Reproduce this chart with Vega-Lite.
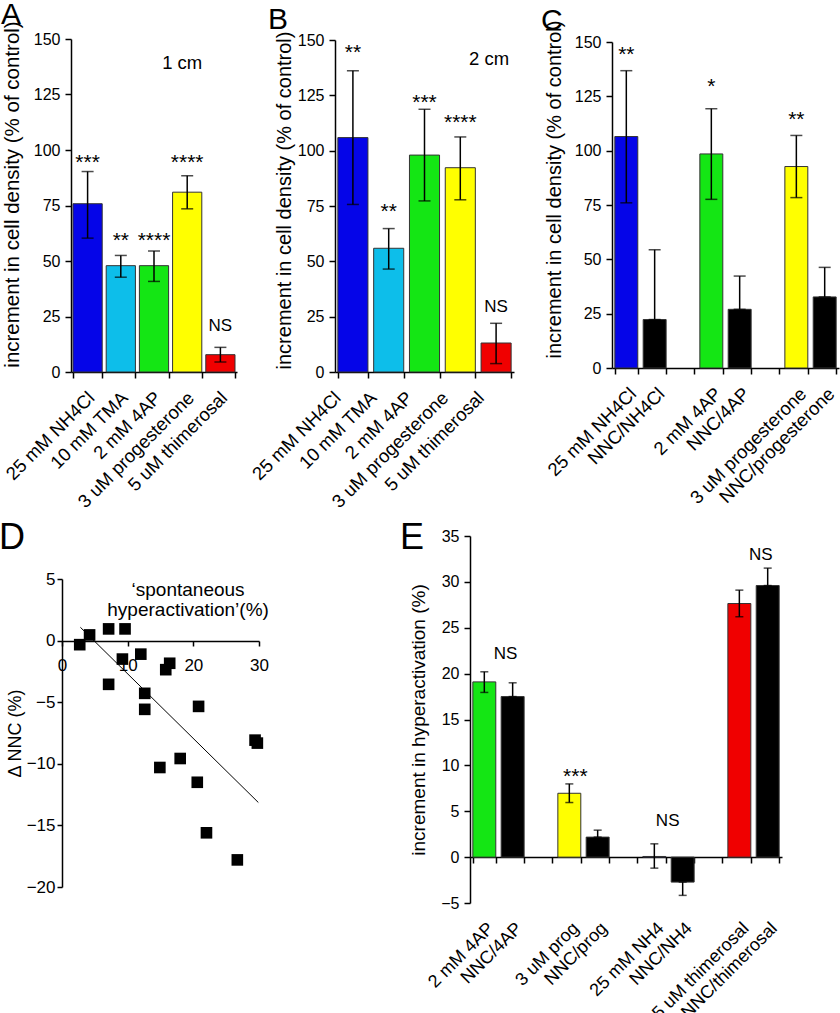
{
  "$schema": "https://vega.github.io/schema/vega-lite/v6.json",
  "autosize": {"type": "none"},
  "padding": {"left": 71, "top": 39, "right": 769, "bottom": 974},
  "background": "white",
  "config": {
    "font": "Liberation Sans",
    "view": {"stroke": null},
    "axis": {"domainColor": "black", "domainWidth": 1.5, "tickColor": "black", "tickWidth": 1.5, "tickSize": 6, "labelColor": "black", "titleColor": "black", "labelFontSize": 16, "titleFontSize": 20, "titleFontWeight": "normal", "grid": false, "labelPadding": 5, "titlePadding": 12},
    "title": {"fontSize": 30, "fontWeight": "normal", "anchor": "start", "frame": "group", "baseline": "alphabetic", "offset": 8, "color": "black"},
    "text": {"color": "black"}
  },
  "datasets": {
    "a": [
      {"c": "25 mM NH4Cl", "v": 75.8, "lo": 60.3, "hi": 90.3},
      {"c": "10 mM TMA", "v": 47.9, "lo": 42.7, "hi": 52.5},
      {"c": "2 mM 4AP", "v": 47.9, "lo": 40.8, "hi": 54.5},
      {"c": "3 uM progesterone", "v": 81, "lo": 73.5, "hi": 88.4},
      {"c": "5 uM thimerosal", "v": 7.8, "lo": 4.5, "hi": 11.1}
    ],
    "b": [
      {"c": "25 mM NH4Cl", "v": 105.9, "lo": 75.7, "hi": 136.1},
      {"c": "10 mM TMA", "v": 55.9, "lo": 46.5, "hi": 64.8},
      {"c": "2 mM 4AP", "v": 98, "lo": 77.3, "hi": 118.7},
      {"c": "3 uM progesterone", "v": 92.3, "lo": 77.8, "hi": 106.2},
      {"c": "5 uM thimerosal", "v": 13.1, "lo": 3.8, "hi": 22}
    ],
    "c": [
      {"c": "25 mM NH4Cl", "v": 106.5, "lo": 76, "hi": 136.8},
      {"c": "NNC/NH4Cl", "v": 22.3, "lo": 22.3, "hi": 54.4},
      {"c": "2 mM 4AP", "v": 98.5, "lo": 77.6, "hi": 119.3},
      {"c": "NNC/4AP", "v": 27, "lo": 27, "hi": 42.3},
      {"c": "3 uM progesterone", "v": 92.7, "lo": 78.4, "hi": 107},
      {"c": "NNC/progesterone", "v": 32.7, "lo": 32.7, "hi": 46.3}
    ],
    "d": [
      {"x": 2.7, "y": -0.33}, {"x": 4.2, "y": 0.46}, {"x": 7.1, "y": 0.95}, {"x": 9.6, "y": 0.95},
      {"x": 9.2, "y": -1.5}, {"x": 12.0, "y": -1.1}, {"x": 7.1, "y": -3.55}, {"x": 15.8, "y": -2.36},
      {"x": 16.4, "y": -1.84}, {"x": 12.6, "y": -4.28}, {"x": 12.6, "y": -5.58}, {"x": 20.8, "y": -5.34},
      {"x": 14.9, "y": -10.3}, {"x": 18.0, "y": -9.57}, {"x": 20.6, "y": -11.5}, {"x": 22.0, "y": -15.6},
      {"x": 26.7, "y": -17.8}, {"x": 29.4, "y": -8.08}, {"x": 29.75, "y": -8.32}
    ],
    "dline": [{"x": 2.8, "y": 1.08}, {"x": 29.9, "y": -13.14}],
    "e": [
      {"c": "2 mM 4AP", "v": 19.1, "lo": 17.95, "hi": 20.2},
      {"c": "NNC/4AP", "v": 17.5, "lo": 17.5, "hi": 19.0},
      {"c": "3 uM prog", "v": 6.96, "lo": 5.95, "hi": 7.98},
      {"c": "NNC/prog", "v": 2.18, "lo": 2.18, "hi": 2.94},
      {"c": "25 mM NH4", "v": 0.07, "lo": -1.2, "hi": 1.45},
      {"c": "NNC/NH4", "v": -2.72, "lo": -4.17, "hi": -2.72},
      {"c": "5 uM thimerosal", "v": 27.64, "lo": 26.2, "hi": 29.1},
      {"c": "NNC/thimerosal", "v": 29.6, "lo": 29.6, "hi": 31.5}
    ]
  },
  "concat": [
    {
      "width": 166, "height": 333,
      "title": {"text": "A", "dx": -70, "dy": 20},
      "data": {"name": "a"},
      "layer": [
        {"mark": {"type": "bar", "stroke": "#333", "strokeWidth": 1},
         "encoding": {
           "x": {"field": "c", "type": "nominal", "sort": null,
                 "scale": {"domain": ["25 mM NH4Cl", "10 mM TMA", "2 mM 4AP", "3 uM progesterone", "5 uM thimerosal"], "paddingInner": 0.12, "paddingOuter": 0.06},
                 "axis": {"title": null, "labelAngle": -45, "labelFontSize": 18.5, "tickBand": "extent", "labelPadding": 10, "labelOffset": -3}},
           "y": {"field": "v", "type": "quantitative", "scale": {"domain": [0, 150], "nice": false},
                 "axis": {"title": "increment in cell  density (% of control)", "titleFontSize": 20.5, "titleY": 155, "values": [0, 25, 50, 75, 100, 125, 150], "titlePadding": 11}},
           "color": {"field": "c", "type": "nominal", "legend": null,
                     "scale": {"domain": ["25 mM NH4Cl", "10 mM TMA", "2 mM 4AP", "3 uM progesterone", "5 uM thimerosal"], "range": ["#0505E8", "#0DBEEA", "#14E614", "#FFFF00", "#F00000"]}}
         }},
        {"mark": {"type": "rule", "color": "black", "strokeWidth": 1.5},
         "encoding": {"x": {"field": "c", "type": "nominal"}, "y": {"field": "lo", "type": "quantitative"}, "y2": {"field": "hi"}}},
        {"mark": {"type": "tick", "color": "black", "size": 12, "thickness": 1.5},
         "encoding": {"x": {"field": "c", "type": "nominal"}, "y": {"field": "lo", "type": "quantitative"}}},
        {"mark": {"type": "tick", "color": "black", "size": 12, "thickness": 1.5},
         "encoding": {"x": {"field": "c", "type": "nominal"}, "y": {"field": "hi", "type": "quantitative"}}},
        {"data": {"values": [{"c": "25 mM NH4Cl", "y": 97, "t": "***"}, {"c": "10 mM TMA", "y": 61.5, "t": "**"}, {"c": "2 mM 4AP", "y": 61.5, "t": "****"}, {"c": "3 uM progesterone", "y": 97, "t": "****"}]},
         "mark": {"type": "text", "fontSize": 21, "dy": 6, "baseline": "middle"},
         "encoding": {"x": {"field": "c", "type": "nominal"}, "y": {"field": "y", "type": "quantitative"}, "text": {"field": "t"}}},
        {"data": {"values": [{"c": "5 uM thimerosal", "y": 21.2, "t": "NS"}]},
         "mark": {"type": "text", "fontSize": 17, "dy": 1, "baseline": "middle"},
         "encoding": {"x": {"field": "c", "type": "nominal"}, "y": {"field": "y", "type": "quantitative"}, "text": {"field": "t"}}},
        {"data": {"values": [{"c": "3 uM progesterone", "y": 139.8, "t": "1 cm"}]},
         "mark": {"type": "text", "fontSize": 18.5, "dy": 1, "dx": -5, "baseline": "middle"},
         "encoding": {"x": {"field": "c", "type": "nominal"}, "y": {"field": "y", "type": "quantitative"}, "text": {"field": "t"}}}
      ]
    },
    {
      "width": 179, "height": 333,
      "title": {"text": "B", "dx": -67, "dy": 12},
      "data": {"name": "b"},
      "layer": [
        {"mark": {"type": "bar", "stroke": "#333", "strokeWidth": 1},
         "encoding": {
           "x": {"field": "c", "type": "nominal", "sort": null,
                 "scale": {"domain": ["25 mM NH4Cl", "10 mM TMA", "2 mM 4AP", "3 uM progesterone", "5 uM thimerosal"], "paddingInner": 0.16, "paddingOuter": 0.08},
                 "axis": {"title": null, "labelAngle": -45, "labelFontSize": 18.5, "tickBand": "extent", "labelPadding": 10, "labelOffset": -22}},
           "y": {"field": "v", "type": "quantitative", "scale": {"domain": [0, 150], "nice": false, "range": [333, 1]},
                 "axis": {"title": "increment in cell density (% of control)", "titleY": 161, "values": [0, 25, 50, 75, 100, 125, 150], "titlePadding": 3}},
           "color": {"field": "c", "type": "nominal", "legend": null,
                     "scale": {"domain": ["25 mM NH4Cl", "10 mM TMA", "2 mM 4AP", "3 uM progesterone", "5 uM thimerosal"], "range": ["#0505E8", "#0DBEEA", "#14E614", "#FFFF00", "#F00000"]}}
         }},
        {"mark": {"type": "rule", "color": "black", "strokeWidth": 1.5},
         "encoding": {"x": {"field": "c", "type": "nominal"}, "y": {"field": "lo", "type": "quantitative"}, "y2": {"field": "hi"}}},
        {"mark": {"type": "tick", "color": "black", "size": 12, "thickness": 1.5},
         "encoding": {"x": {"field": "c", "type": "nominal"}, "y": {"field": "lo", "type": "quantitative"}}},
        {"mark": {"type": "tick", "color": "black", "size": 12, "thickness": 1.5},
         "encoding": {"x": {"field": "c", "type": "nominal"}, "y": {"field": "hi", "type": "quantitative"}}},
        {"data": {"values": [{"c": "25 mM NH4Cl", "y": 146.8, "t": "**"}, {"c": "10 mM TMA", "y": 74.8, "t": "**"}, {"c": "2 mM 4AP", "y": 124.3, "t": "***"}, {"c": "3 uM progesterone", "y": 115, "t": "****"}]},
         "mark": {"type": "text", "fontSize": 21, "dy": 6, "baseline": "middle"},
         "encoding": {"x": {"field": "c", "type": "nominal"}, "y": {"field": "y", "type": "quantitative"}, "text": {"field": "t"}}},
        {"data": {"values": [{"c": "5 uM thimerosal", "y": 29.8, "t": "NS"}]},
         "mark": {"type": "text", "fontSize": 17, "dy": 1, "baseline": "middle"},
         "encoding": {"x": {"field": "c", "type": "nominal"}, "y": {"field": "y", "type": "quantitative"}, "text": {"field": "t"}}},
        {"data": {"values": [{"c": "5 uM thimerosal", "y": 141.8, "t": "2 cm"}]},
         "mark": {"type": "text", "fontSize": 18.5, "dy": 1, "dx": -7, "baseline": "middle"},
         "encoding": {"x": {"field": "c", "type": "nominal"}, "y": {"field": "y", "type": "quantitative"}, "text": {"field": "t"}}}
      ]
    },
    {
      "width": 227, "height": 329,
      "title": {"text": "C", "dx": -71, "dy": 24},
      "data": {"name": "c"},
      "layer": [
        {"mark": {"type": "bar", "stroke": "#333", "strokeWidth": 1},
         "encoding": {
           "x": {"field": "c", "type": "nominal", "sort": null,
                 "scale": {"domain": ["25 mM NH4Cl", "NNC/NH4Cl", "gap1", "2 mM 4AP", "NNC/4AP", "gap2", "3 uM progesterone", "NNC/progesterone"], "paddingInner": 0.19, "paddingOuter": 0.1},
                 "axis": {"title": null, "labelAngle": -45, "labelFontSize": 18.5, "tickBand": "extent", "labelPadding": 10, "labelExpr": "indexof(datum.label, 'gap') == 0 ? '' : datum.label"}},
           "y": {"field": "v", "type": "quantitative", "scale": {"domain": [0, 150], "nice": false, "range": [329, 3]},
                 "axis": {"title": "increment in cell density (% of control)", "titleY": 150, "values": [0, 25, 50, 75, 100, 125, 150], "titlePadding": 10}},
           "color": {"field": "c", "type": "nominal", "legend": null,
                     "scale": {"domain": ["25 mM NH4Cl", "NNC/NH4Cl", "2 mM 4AP", "NNC/4AP", "3 uM progesterone", "NNC/progesterone"], "range": ["#0505E8", "#000000", "#14E614", "#000000", "#FFFF00", "#000000"]}}
         }},
        {"mark": {"type": "rule", "color": "black", "strokeWidth": 1.5},
         "encoding": {"x": {"field": "c", "type": "nominal"}, "y": {"field": "lo", "type": "quantitative"}, "y2": {"field": "hi"}}},
        {"mark": {"type": "tick", "color": "black", "size": 12, "thickness": 1.5},
         "encoding": {"x": {"field": "c", "type": "nominal"}, "y": {"field": "lo", "type": "quantitative"}}},
        {"mark": {"type": "tick", "color": "black", "size": 12, "thickness": 1.5},
         "encoding": {"x": {"field": "c", "type": "nominal"}, "y": {"field": "hi", "type": "quantitative"}}},
        {"data": {"values": [{"c": "25 mM NH4Cl", "y": 146.9, "t": "**"}, {"c": "2 mM 4AP", "y": 132, "t": "*"}, {"c": "3 uM progesterone", "y": 117, "t": "**"}]},
         "mark": {"type": "text", "fontSize": 21, "dy": 6, "baseline": "middle"},
         "encoding": {"x": {"field": "c", "type": "nominal"}, "y": {"field": "y", "type": "quantitative"}, "text": {"field": "t"}}}
      ]
    },
    {
      "width": 166, "height": 351,
      "title": {"text": "D", "dx": -72, "dy": 29, "fontSize": 36},
      "layer": [
        {"data": {"name": "d"},
         "mark": {"type": "square", "size": 135, "color": "black", "opacity": 1, "filled": true},
         "encoding": {
           "x": {"field": "x", "type": "quantitative", "scale": {"domain": [0, 30], "range": [-9, 188], "nice": false},
                 "axis": {"title": null, "values": [0, 10, 20, 30], "offset": -246, "labelFontSize": 17, "tickSize": 5, "labelPadding": 11, "labelFlush": false}},
           "y": {"field": "y", "type": "quantitative", "scale": {"domain": [-20, 5], "range": [351, 43], "nice": false},
                 "axis": {"title": "Δ NNC (%)", "titleFontSize": 18, "values": [-20, -15, -10, -5, 0, 5], "offset": 9, "labelFontSize": 17, "tickSize": 5, "labelPadding": 2, "titlePadding": 2}}
         }},
        {"data": {"name": "dline"},
         "mark": {"type": "line", "color": "black", "strokeWidth": 1},
         "encoding": {"x": {"field": "x", "type": "quantitative"}, "y": {"field": "y", "type": "quantitative"}}},
        {"data": {"values": [{}]},
         "mark": {"type": "text", "text": ["‘spontaneous", "hyperactivation’(%)"], "fontSize": 19, "lineHeight": 20, "align": "center", "baseline": "middle"},
         "encoding": {"x": {"datum": 19.2}, "y": {"datum": 4.1}}}
      ]
    },
    {
      "width": 179, "height": 367,
      "title": {"text": "E", "dx": 65, "dy": 37, "fontSize": 36},
      "data": {"name": "e"},
      "layer": [
        {"mark": {"type": "bar", "stroke": "#333", "strokeWidth": 1},
         "encoding": {
           "x": {"field": "c", "type": "nominal", "sort": null,
                 "scale": {"domain": ["2 mM 4AP", "NNC/4AP", "gap1", "3 uM prog", "NNC/prog", "gap2", "25 mM NH4", "NNC/NH4", "gap3", "5 uM thimerosal", "NNC/thimerosal"], "range": [135, 447], "paddingInner": 0.19, "paddingOuter": 0.1},
                 "axis": {"title": null, "labelAngle": -45, "labelFontSize": 18, "tickBand": "extent", "offset": -46, "labelPadding": 56, "labelExpr": "indexof(datum.label, 'gap') == 0 ? '' : datum.label"}},
           "y": {"field": "v", "type": "quantitative", "scale": {"domain": [-5, 35], "nice": false},
                 "axis": {"title": "increment in hyperactivation (%)", "titleFontSize": 19, "values": [-5, 0, 5, 10, 15, 20, 25, 30, 35], "offset": -135, "titlePadding": 12}},
           "color": {"field": "c", "type": "nominal", "legend": null,
                     "scale": {"domain": ["2 mM 4AP", "NNC/4AP", "3 uM prog", "NNC/prog", "25 mM NH4", "NNC/NH4", "5 uM thimerosal", "NNC/thimerosal"], "range": ["#14E614", "#000000", "#FFFF00", "#000000", "#0505E8", "#000000", "#F00000", "#000000"]}}
         }},
        {"mark": {"type": "rule", "color": "black", "strokeWidth": 1.5},
         "encoding": {"x": {"field": "c", "type": "nominal"}, "y": {"field": "lo", "type": "quantitative"}, "y2": {"field": "hi"}}},
        {"mark": {"type": "tick", "color": "black", "size": 8, "thickness": 1.5},
         "encoding": {"x": {"field": "c", "type": "nominal"}, "y": {"field": "lo", "type": "quantitative"}}},
        {"mark": {"type": "tick", "color": "black", "size": 8, "thickness": 1.5},
         "encoding": {"x": {"field": "c", "type": "nominal"}, "y": {"field": "hi", "type": "quantitative"}}},
        {"data": {"values": [{"c": "3 uM prog", "y": 9.36, "t": "***"}]},
         "mark": {"type": "text", "fontSize": 21, "dy": 6, "dx": 6, "baseline": "middle"},
         "encoding": {"x": {"field": "c", "type": "nominal"}, "y": {"field": "y", "type": "quantitative"}, "text": {"field": "t"}}},
        {"data": {"values": [{"c": "NNC/4AP", "y": 22.3, "t": "NS"}, {"c": "NNC/thimerosal", "y": 33.0, "t": "NS"}]},
         "mark": {"type": "text", "fontSize": 17, "dy": 1, "dx": -7, "baseline": "middle"},
         "encoding": {"x": {"field": "c", "type": "nominal"}, "y": {"field": "y", "type": "quantitative"}, "text": {"field": "t"}}},
        {"data": {"values": [{"c": "NNC/NH4", "y": 4.03, "t": "NS"}]},
         "mark": {"type": "text", "fontSize": 17, "dy": 1, "dx": -15, "baseline": "middle"},
         "encoding": {"x": {"field": "c", "type": "nominal"}, "y": {"field": "y", "type": "quantitative"}, "text": {"field": "t"}}}
      ]
    }
  ],
  "columns": 3,
  "bounds": "flush",
  "spacing": {"row": 164, "column": 98},
  "resolve": {"scale": {"color": "independent"}}
}
